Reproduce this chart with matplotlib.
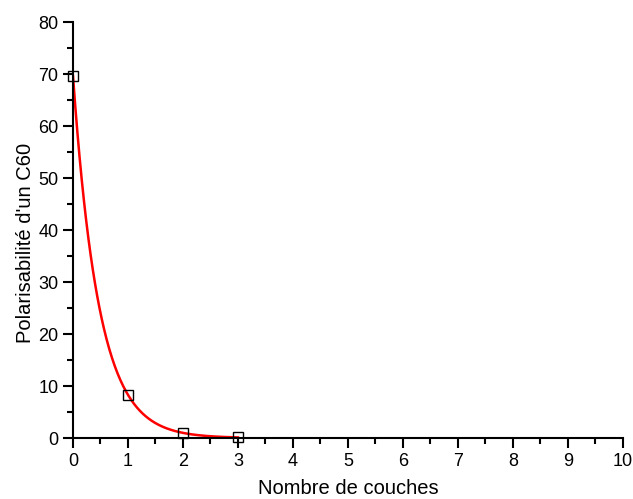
import numpy as np
import matplotlib.pyplot as plt
from matplotlib.ticker import MultipleLocator

plt.rcParams['font.family'] = ['Liberation Sans', 'DejaVu Sans']

layers = [0, 1, 2, 3]
polar = [69.7, 8.3, 1.0, 0.15]

# exponential decay fit parameters (y = A*exp(-x/t))
fit_A = 69.7
fit_t = 0.47
fit_range = (0, 3)

fig = plt.figure(figsize=(6.33, 4.99), dpi=100)
ax = fig.add_axes([0.1153, 0.1222, 0.8689, 0.8337])

xf = np.linspace(fit_range[0], fit_range[1], 300)
ax.plot(xf, fit_A * np.exp(-xf / fit_t), color='red', lw=1.8, zorder=2)
ax.plot(layers, polar, ls='none', marker='s', ms=7, mfc='none', mec='black', mew=1, zorder=3, clip_on=False)

ax.set_xlim(0, 10)
ax.set_ylim(0, 80)
ax.xaxis.set_major_locator(MultipleLocator(1))
ax.xaxis.set_minor_locator(MultipleLocator(0.5))
ax.yaxis.set_major_locator(MultipleLocator(10))
ax.yaxis.set_minor_locator(MultipleLocator(5))

for s in ['top', 'right']:
    ax.spines[s].set_visible(False)
for s in ['left', 'bottom']:
    ax.spines[s].set_linewidth(1.5)
ax.tick_params(which='major', direction='out', length=7, width=1.5, labelsize=13)
ax.tick_params(which='minor', direction='out', length=4, width=1.5)

ax.set_xlabel('Nombre de couches', fontsize=14.5, labelpad=7)
ax.set_ylabel("Polarisabilité d'un C60", fontsize=14.5)
ax.yaxis.set_label_coords(-0.069, 0.469)

fig.savefig('out.png', dpi=100)
